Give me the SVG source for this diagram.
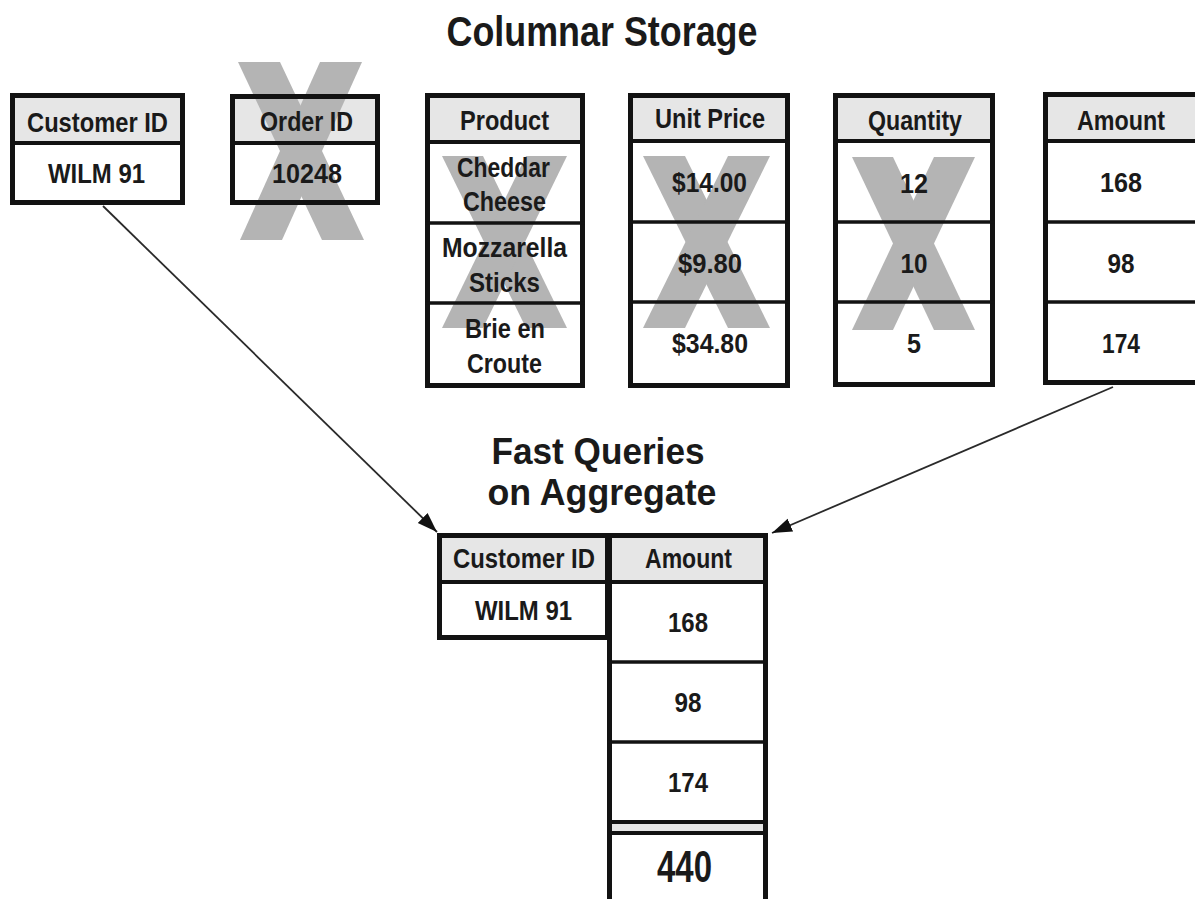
<svg xmlns="http://www.w3.org/2000/svg" width="1195" height="899" viewBox="0 0 1195 899">
  <defs>
    <style>
      .hdr { fill: #e6e6e6; }
      .body { fill: #ffffff; }
      .frame { fill: none; stroke: #121212; stroke-width: 5; }
      .sep { stroke: #121212; stroke-width: 4; }
      .row { stroke: #121212; stroke-width: 3.5; }
      .xmark { fill: #b4b4b4; }
      .t { font-family: "Liberation Sans Narrow", "Liberation Sans", Arial, sans-serif; font-weight: bold; font-size: 28px; text-anchor: middle; fill: #1a1a1a; }
      .title { font-size: 43px; }
      .sub { font-size: 36px; }
      .big { font-size: 45px; }
      .link { stroke: #2a2a2a; stroke-width: 1.8; fill: none; }
    </style>
    <marker id="arrow" markerUnits="userSpaceOnUse" markerWidth="22" markerHeight="16" refX="20" refY="8" orient="auto">
      <path d="M0,1 L20,8 L0,15 Z" fill="#111"/>
    </marker>
  </defs>

  <rect width="1195" height="899" fill="#ffffff"/>

  <!-- headings -->
  <g id="titles">
    <text class="t title" x="602" y="46" textLength="311" lengthAdjust="spacingAndGlyphs">Columnar Storage</text>
    <text class="t sub" x="598" y="464" textLength="213" lengthAdjust="spacingAndGlyphs">Fast Queries</text>
    <text class="t sub" x="602" y="505" textLength="229" lengthAdjust="spacingAndGlyphs">on Aggregate</text>
  </g>

  <!-- connectors -->
  <g id="connectors">
    <line class="link" x1="103" y1="206" x2="437" y2="532" marker-end="url(#arrow)"/>
    <line class="link" x1="1113" y1="387" x2="772" y2="533" marker-end="url(#arrow)"/>
  </g>

  <!-- Customer ID column -->
  <g id="col-customer">
    <rect class="hdr" x="10" y="93" width="175" height="50"/>
    <rect class="body" x="10" y="143" width="175" height="62"/>
    <rect class="frame" x="12.5" y="95.5" width="170" height="107"/>
    <line class="sep" x1="10" y1="143" x2="185" y2="143"/>
    <text class="t" x="97.5" y="132" textLength="141" lengthAdjust="spacingAndGlyphs">Customer ID</text>
    <text class="t" x="96.5" y="183" textLength="97" lengthAdjust="spacingAndGlyphs">WILM 91</text>
  </g>

  <!-- Order ID column (crossed out) -->
  <g id="col-order">
    <rect class="hdr" x="230" y="94" width="150" height="49"/>
    <rect class="body" x="230" y="143" width="150" height="62"/>
    <polygon class="xmark" points="238,62 280,62 364,240 322,240"/>
    <polygon class="xmark" points="320,62 362,62 282,240 240,240"/>
    <rect class="frame" x="232.5" y="96.5" width="145" height="106"/>
    <line class="sep" x1="230" y1="143" x2="380" y2="143"/>
    <text class="t" x="306.5" y="131" textLength="93" lengthAdjust="spacingAndGlyphs">Order ID</text>
    <text class="t" x="307" y="183" textLength="70" lengthAdjust="spacingAndGlyphs">10248</text>
  </g>

  <!-- Product column (crossed out) -->
  <g id="col-product">
    <rect class="hdr" x="425" y="93" width="160" height="49"/>
    <rect class="body" x="425" y="142" width="160" height="246"/>
    <polygon class="xmark" points="442,156 483,156 567,328 526,328"/>
    <polygon class="xmark" points="526,156 567,156 483,328 442,328"/>
    <rect class="frame" x="427.5" y="95.5" width="155" height="290"/>
    <line class="sep" x1="425" y1="142" x2="585" y2="142"/>
    <line class="row" x1="425" y1="223" x2="585" y2="223"/>
    <line class="row" x1="425" y1="303" x2="585" y2="303"/>
    <text class="t" x="504.5" y="130" textLength="89" lengthAdjust="spacingAndGlyphs">Product</text>
    <text class="t" x="503.5" y="177" textLength="93" lengthAdjust="spacingAndGlyphs">Cheddar</text>
    <text class="t" x="504.5" y="211" textLength="83" lengthAdjust="spacingAndGlyphs">Cheese</text>
    <text class="t" x="504.5" y="257" textLength="125" lengthAdjust="spacingAndGlyphs">Mozzarella</text>
    <text class="t" x="504.5" y="292" textLength="71" lengthAdjust="spacingAndGlyphs">Sticks</text>
    <text class="t" x="505" y="338" textLength="80" lengthAdjust="spacingAndGlyphs">Brie en</text>
    <text class="t" x="504.5" y="373" textLength="75" lengthAdjust="spacingAndGlyphs">Croute</text>
  </g>

  <!-- Unit Price column (crossed out) -->
  <g id="col-price">
    <rect class="hdr" x="628" y="93" width="162" height="48"/>
    <rect class="body" x="628" y="141" width="162" height="247"/>
    <polygon class="xmark" points="643,156 685,156 770,328 728,328"/>
    <polygon class="xmark" points="728,156 770,156 685,328 643,328"/>
    <rect class="frame" x="630.5" y="95.5" width="157" height="290"/>
    <line class="sep" x1="628" y1="141" x2="790" y2="141"/>
    <line class="row" x1="628" y1="222" x2="790" y2="222"/>
    <line class="row" x1="628" y1="302" x2="790" y2="302"/>
    <text class="t" x="710" y="128" textLength="110" lengthAdjust="spacingAndGlyphs">Unit Price</text>
    <text class="t" x="709.5" y="192" textLength="75" lengthAdjust="spacingAndGlyphs">$14.00</text>
    <text class="t" x="710" y="273" textLength="64" lengthAdjust="spacingAndGlyphs">$9.80</text>
    <text class="t" x="710" y="353" textLength="76" lengthAdjust="spacingAndGlyphs">$34.80</text>
  </g>

  <!-- Quantity column (crossed out) -->
  <g id="col-quantity">
    <rect class="hdr" x="833" y="93" width="162" height="48"/>
    <rect class="body" x="833" y="141" width="162" height="246"/>
    <polygon class="xmark" points="852,157 893,157 975,330 934,330"/>
    <polygon class="xmark" points="934,157 975,157 893,330 852,330"/>
    <rect class="frame" x="835.5" y="95.5" width="157" height="289"/>
    <line class="sep" x1="833" y1="141" x2="995" y2="141"/>
    <line class="row" x1="833" y1="222" x2="995" y2="222"/>
    <line class="row" x1="833" y1="302" x2="995" y2="302"/>
    <text class="t" x="915" y="130" textLength="94" lengthAdjust="spacingAndGlyphs">Quantity</text>
    <text class="t" x="914" y="193" textLength="28" lengthAdjust="spacingAndGlyphs">12</text>
    <text class="t" x="914" y="273" textLength="27" lengthAdjust="spacingAndGlyphs">10</text>
    <text class="t" x="914" y="353" textLength="14" lengthAdjust="spacingAndGlyphs">5</text>
  </g>

  <!-- Amount column -->
  <g id="col-amount">
    <rect class="hdr" x="1043" y="92" width="165" height="49"/>
    <rect class="body" x="1043" y="141" width="165" height="244"/>
    <rect class="frame" x="1045.5" y="94.5" width="160" height="288"/>
    <line class="sep" x1="1043" y1="141" x2="1208" y2="141"/>
    <line class="row" x1="1043" y1="222" x2="1208" y2="222"/>
    <line class="row" x1="1043" y1="302" x2="1208" y2="302"/>
    <text class="t" x="1121" y="130" textLength="88" lengthAdjust="spacingAndGlyphs">Amount</text>
    <text class="t" x="1121" y="192" textLength="42" lengthAdjust="spacingAndGlyphs">168</text>
    <text class="t" x="1121" y="273" textLength="27" lengthAdjust="spacingAndGlyphs">98</text>
    <text class="t" x="1121" y="353" textLength="38" lengthAdjust="spacingAndGlyphs">174</text>
  </g>

  <!-- result: Customer ID -->
  <g id="agg-customer">
    <rect class="hdr" x="437" y="533" width="172" height="49"/>
    <rect class="body" x="437" y="582" width="172" height="58"/>
    <rect class="frame" x="439.5" y="535.5" width="168" height="102"/>
    <line class="sep" x1="437" y1="582" x2="609" y2="582"/>
    <text class="t" x="524" y="568" textLength="142" lengthAdjust="spacingAndGlyphs">Customer ID</text>
    <text class="t" x="523.5" y="620" textLength="97" lengthAdjust="spacingAndGlyphs">WILM 91</text>
  </g>

  <!-- result: Amount with total -->
  <g id="agg-amount">
    <rect class="hdr" x="607" y="533" width="161" height="49"/>
    <rect class="body" x="607" y="582" width="161" height="320"/>
    <rect class="hdr" x="607" y="822" width="161" height="11"/>
    <rect class="frame" x="609.5" y="535.5" width="156" height="380"/>
    <line class="sep" x1="607" y1="582" x2="768" y2="582"/>
    <line class="row" x1="607" y1="662" x2="768" y2="662"/>
    <line class="row" x1="607" y1="742" x2="768" y2="742"/>
    <line class="sep" x1="607" y1="822" x2="768" y2="822"/>
    <line class="sep" x1="607" y1="833" x2="768" y2="833"/>
    <text class="t" x="688.5" y="568" textLength="87" lengthAdjust="spacingAndGlyphs">Amount</text>
    <text class="t" x="688" y="632" textLength="40" lengthAdjust="spacingAndGlyphs">168</text>
    <text class="t" x="688" y="712" textLength="27" lengthAdjust="spacingAndGlyphs">98</text>
    <text class="t" x="688" y="792" textLength="40" lengthAdjust="spacingAndGlyphs">174</text>
    <text class="t big" x="684.5" y="882" textLength="55" lengthAdjust="spacingAndGlyphs">440</text>
  </g>
</svg>
